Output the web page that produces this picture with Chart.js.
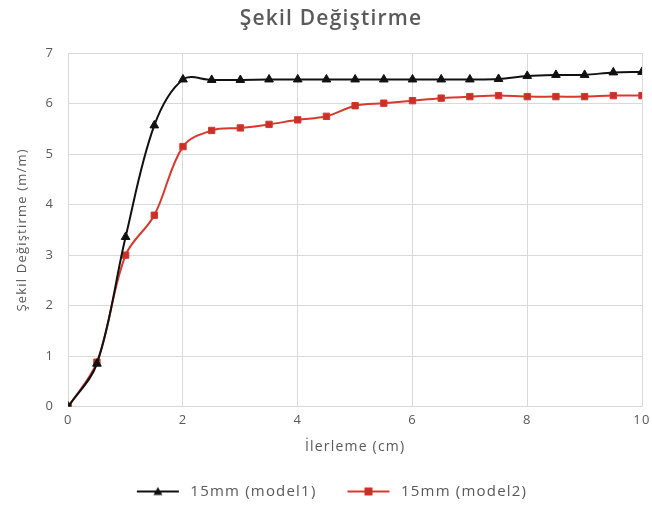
<!DOCTYPE html>
<html>
<head>
<meta charset="utf-8">
<script src="https://cdn.jsdelivr.net/npm/chart.js@4"></script>
<style>
  html, body { margin: 0; padding: 0; background: #fff; }
  #wrap { width: 652px; height: 509px; }
</style>
</head>
<body>
<div id="wrap"><canvas id="chart"></canvas></div>
<script>
// İlerleme (cm)
const xValues = [0, 0.5, 1, 1.5, 2, 2.5, 3, 3.5, 4, 4.5, 5, 5.5, 6, 6.5, 7, 7.5, 8, 8.5, 9, 9.5, 10];
const model1 = [0, 0.85, 3.36, 5.57, 6.48, 6.47, 6.47, 6.48, 6.48, 6.48, 6.48, 6.48, 6.48, 6.48, 6.48, 6.49, 6.55, 6.57, 6.57, 6.62, 6.63];
const model2 = [0, 0.88, 3.0, 3.79, 5.15, 5.47, 5.52, 5.59, 5.68, 5.75, 5.96, 6.01, 6.06, 6.11, 6.14, 6.16, 6.14, 6.14, 6.14, 6.16, 6.16];
const seriesNames = ['15mm (model1)', '15mm (model2)'];

const toPoints = (ys) => xValues.map((x, i) => ({ x: x, y: ys[i] }));

// legend swatch: short line with the series marker in the middle
function legendSwatch(color, fill, shape) {
    const c = document.createElement('canvas');
    c.width = 48;
    c.height = 12;
    const g = c.getContext('2d');
    g.strokeStyle = color;
    g.lineWidth = 2;
    g.beginPath();
    g.moveTo(2, 6);
    g.lineTo(44, 6);
    g.stroke();
    g.fillStyle = fill;
    if (shape === 'triangle') {
        g.beginPath();
        g.moveTo(23, 1.5);
        g.lineTo(27.5, 9.5);
        g.lineTo(18.5, 9.5);
        g.closePath();
        g.fill();
    } else {
        g.fillRect(19, 2, 8, 8);
    }
    return c;
}

const swatches = [
    legendSwatch('#111111', '#111111', 'triangle'),
    legendSwatch('#d9382c', '#c8302a', 'rect')
];

// the original text is set quite wide, so space the letters out a bit
const wideText = {
    id: 'wideText',
    beforeLayout(chart) { chart.ctx.letterSpacing = '1.2px'; },
    beforeDraw(chart) { chart.ctx.letterSpacing = '1.2px'; }
};

const ctx = document.getElementById('chart');
new Chart(ctx, {
    type: 'line',
    data: {
        datasets: [{
            label: seriesNames[0],
            data: toPoints(model1),
            borderColor: '#111111',
            backgroundColor: '#111111',
            borderWidth: 2,
            pointStyle: 'triangle',
            pointRadius: 5,
            pointBorderWidth: 1,
            tension: 0.35
        }, {
            label: seriesNames[1],
            data: toPoints(model2),
            borderColor: '#d9382c',
            backgroundColor: '#c8302a',
            borderWidth: 2,
            pointStyle: 'rect',
            pointRadius: 4.5,
            pointBorderWidth: 1,
            tension: 0.35
        }]
    },
    plugins: [wideText],
    options: {
        responsive: true,
        maintainAspectRatio: false,
        animation: false,
        layout: {
            padding: { left: 10, right: 0, top: 6, bottom: 0 }
        },
        plugins: {
            title: {
                display: true,
                text: 'Şekil Değiştirme',
                color: '#5a5a5a',
                font: { family: 'Open Sans', size: 21, weight: '600' },
                padding: { top: 0, bottom: 22 }
            },
            legend: {
                position: 'bottom',
                labels: {
                    usePointStyle: true,
                    pointStyleWidth: 48,
                    color: '#595959',
                    font: { family: 'Open Sans', size: 15 },
                    padding: 29,
                    generateLabels: (chart) => chart.data.datasets.map((ds, i) => ({
                        text: ds.label,
                        pointStyle: swatches[i],
                        fillStyle: ds.backgroundColor,
                        strokeStyle: ds.borderColor,
                        lineWidth: 0,
                        fontColor: '#595959',
                        datasetIndex: i
                    }))
                }
            },
            tooltip: { enabled: false }
        },
        scales: {
            x: {
                type: 'linear',
                min: 0,
                max: 10,
                // let the last tick label run off the edge, as in the original
                afterFit: (scale) => { scale.paddingRight = 10; },
                ticks: {
                    stepSize: 2,
                    color: '#595959',
                    padding: 6,
                    font: { family: 'Open Sans', size: 13 }
                },
                grid: { color: '#d9d9d9', drawTicks: false },
                border: { color: '#d9d9d9' },
                title: {
                    display: true,
                    text: 'İlerleme (cm)',
                    color: '#595959',
                    font: { family: 'Open Sans', size: 14 },
                    padding: { top: 4, bottom: 0 }
                }
            },
            y: {
                min: 0,
                max: 7,
                ticks: {
                    stepSize: 1,
                    color: '#595959',
                    padding: 14,
                    font: { family: 'Open Sans', size: 13 }
                },
                grid: { color: '#d9d9d9', drawTicks: false },
                border: { display: false },
                title: {
                    display: true,
                    text: 'Şekil Değiştirme (m/m)',
                    color: '#595959',
                    font: { family: 'Open Sans', size: 13 },
                    padding: { bottom: 2 }
                }
            }
        }
    }
});
</script>
</body>
</html>
